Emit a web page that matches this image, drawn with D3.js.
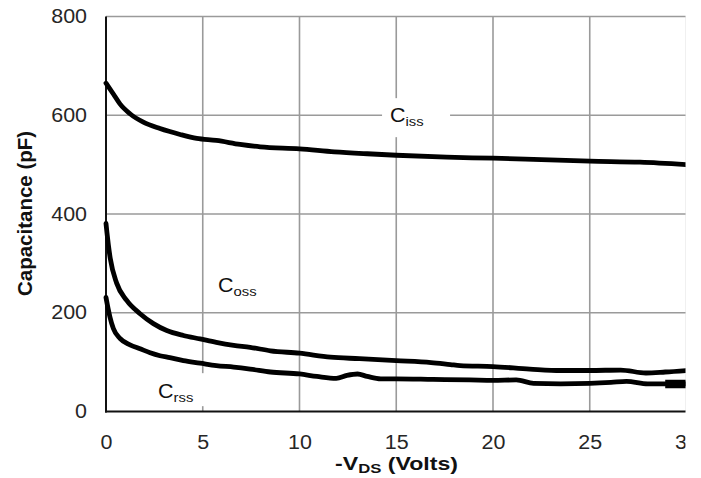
<!DOCTYPE html>
<html>
<head>
<meta charset="utf-8">
<script src="https://cdn.jsdelivr.net/npm/d3@7"></script>
<style>
  html, body { margin: 0; padding: 0; background: #fff; }
  svg { display: block; }
  text { font-family: "Liberation Sans", Arial, Helvetica, sans-serif; }
</style>
</head>
<body>
<svg id="chart" width="701" height="478"></svg>
<script>
// Capacitance vs. drain-source voltage, [ -VDS (V), C (pF) ]
const cissPoints = [
  [0, 665], [0.38, 643], [0.72, 623], [1.24, 603], [1.93, 586], [2.79, 573],
  [3.83, 561], [4.69, 553], [5.7, 549], [6.93, 541], [7.97, 536], [10, 532],
  [11.8, 526], [13.5, 522], [15, 519], [17.6, 515], [20, 513], [22.5, 510],
  [25, 507], [27.6, 505], [30, 500]
];
const cossPoints = [
  [0, 381], [0.05, 362], [0.12, 338], [0.22, 310], [0.55, 260], [1.07, 225],
  [1.76, 198], [2.45, 178], [3.14, 164], [4.0, 154], [4.86, 147], [5.7, 140],
  [6.6, 134], [7.45, 130], [8.5, 123], [10, 118], [11.6, 110], [13.1, 107],
  [15, 103], [16.8, 99], [17.8, 95], [18.3, 93], [20, 91], [21.9, 86],
  [23.5, 83], [25, 83], [26.6, 84], [27.9, 78], [28.9, 80], [30, 83]
];
const crssPoints = [
  [0, 231], [0.1, 210], [0.2, 192], [0.38, 168], [0.72, 148], [1.24, 135],
  [1.76, 127], [2.28, 119], [2.79, 113], [3.3, 109], [4.0, 103], [4.86, 98],
  [5.7, 93], [6.6, 90], [7.45, 86], [8.5, 80], [10, 76], [10.9, 71],
  [11.9, 67], [12.45, 73], [13, 76], [13.5, 71], [14.2, 66], [15, 66],
  [16.9, 65], [18.8, 64], [20, 63], [21.2, 64], [22.1, 57], [23.5, 56],
  [25, 57], [26.1, 59], [26.9, 61], [28, 56], [29, 56], [30, 56]
];
// heavier tail segment at the end of the Crss trace
const crssTail = [[28.9, 55.5], [30, 55.5]];

const xTicks = [0, 5, 10, 15, 20, 25, 30];
const yTicks = [0, 200, 400, 600, 800];

// curve labels: [main letter, subscript, anchor V, anchor pF]
const curveLabels = [
  { main: "C", sub: "iss", v: 14.68, c: 586, box: [-8, -24, 68, 39] },
  { main: "C", sub: "oss", v: 5.79, c: 242, box: [-5, -20, 50, 30] },
  { main: "C", sub: "rss", v: 2.69, c: 27, box: [-8, -25, 60, 33] }
];

const svg = d3.select("#chart");
const W = 701, H = 478;

const x = d3.scaleLinear().domain([0, 30]).range([106, 686.5]);
const y = d3.scaleLinear().domain([0, 800]).range([411.5, 16.5]);
const SX = 1.1; // horizontal glyph stretch

svg.append("defs").append("clipPath").attr("id", "cut")
  .append("rect").attr("x", 0).attr("y", 0).attr("width", 685.5).attr("height", H);

const g = svg.append("g").attr("clip-path", "url(#cut)");

// grid
const grid = g.append("g").attr("stroke", "#9a9a9a").attr("stroke-width", 1.6);
grid.selectAll("line.v").data(xTicks.filter(d => d > 0)).join("line")
  .attr("x1", d => x(d)).attr("x2", d => x(d))
  .attr("y1", y(800)).attr("y2", y(0));
grid.selectAll("line.h").data(yTicks.filter(d => d > 0)).join("line")
  .attr("x1", x(0)).attr("x2", x(30))
  .attr("y1", d => y(d)).attr("y2", d => y(d));

// axes
const yAxis = g.append("g").attr("transform", `translate(${x(0)},0)`)
  .call(d3.axisLeft(y).tickValues(yTicks).tickSize(0).tickPadding(19));
const xAxis = g.append("g").attr("transform", `translate(0,${y(0)})`)
  .call(d3.axisBottom(x).tickValues(xTicks).tickSize(0).tickPadding(24));
[yAxis, xAxis].forEach(a => {
  a.select(".domain").remove();
  a.selectAll("text")
    .attr("font-size", 19.5)
    .attr("fill", "#262626")
    .attr("font-family", "Liberation Sans, Arial, sans-serif")
    .attr("transform", `scale(${SX},1)`);
});
yAxis.selectAll("text").attr("x", -19 / SX);

g.append("line").attr("x1", x(0)).attr("x2", x(0))
  .attr("y1", y(800)).attr("y2", y(0) + 1)
  .attr("stroke", "#111").attr("stroke-width", 2);
g.append("line").attr("x1", x(0) - 1).attr("x2", x(30))
  .attr("y1", y(0)).attr("y2", y(0))
  .attr("stroke", "#111").attr("stroke-width", 2);

// label backgrounds
const labG = g.append("g");
curveLabels.forEach(l => {
  labG.append("rect")
    .attr("x", x(l.v) + l.box[0]).attr("y", y(l.c) + l.box[1])
    .attr("width", l.box[2]).attr("height", l.box[3])
    .attr("fill", "#fff");
});

// curves
const line = d3.line().x(d => x(d[0])).y(d => y(d[1])).curve(d3.curveMonotoneX);
const curves = g.append("g").attr("fill", "none").attr("stroke", "#000")
  .attr("stroke-linejoin", "round").attr("stroke-linecap", "round");
[cissPoints, cossPoints, crssPoints].forEach(pts => {
  curves.append("path").attr("d", line(pts)).attr("stroke-width", 4.8);
});
curves.append("path").attr("d", line(crssTail))
  .attr("stroke-width", 8.5).attr("stroke-linecap", "butt");

// curve labels
curveLabels.forEach(l => {
  const t = labG.append("text")
    .attr("transform", `translate(${x(l.v)},${y(l.c)}) scale(${SX},1)`)
    .attr("fill", "#111");
  t.append("tspan").attr("font-size", 19.5).text(l.main);
  t.append("tspan").attr("font-size", 13.5).attr("dy", 3.5).text(l.sub);
});

// axis titles
svg.append("text")
  .attr("transform", "translate(31.5,213.5) rotate(-90)")
  .attr("text-anchor", "middle")
  .attr("font-size", 20.5).attr("font-weight", "bold").attr("fill", "#111")
  .text("Capacitance (pF)");

const xt = svg.append("text")
  .attr("text-anchor", "middle")
  .attr("font-size", 18).attr("font-weight", "bold").attr("fill", "#111");
xt.append("tspan").text("-V");
xt.append("tspan").attr("font-size", 13).attr("dy", 3).text("DS");
xt.append("tspan").attr("dy", -3).text(" (Volts)");
const bw = xt.node().getBBox().width;
xt.attr("transform", `translate(396.5,470) scale(${123 / bw},1)`);
</script>
</body>
</html>
